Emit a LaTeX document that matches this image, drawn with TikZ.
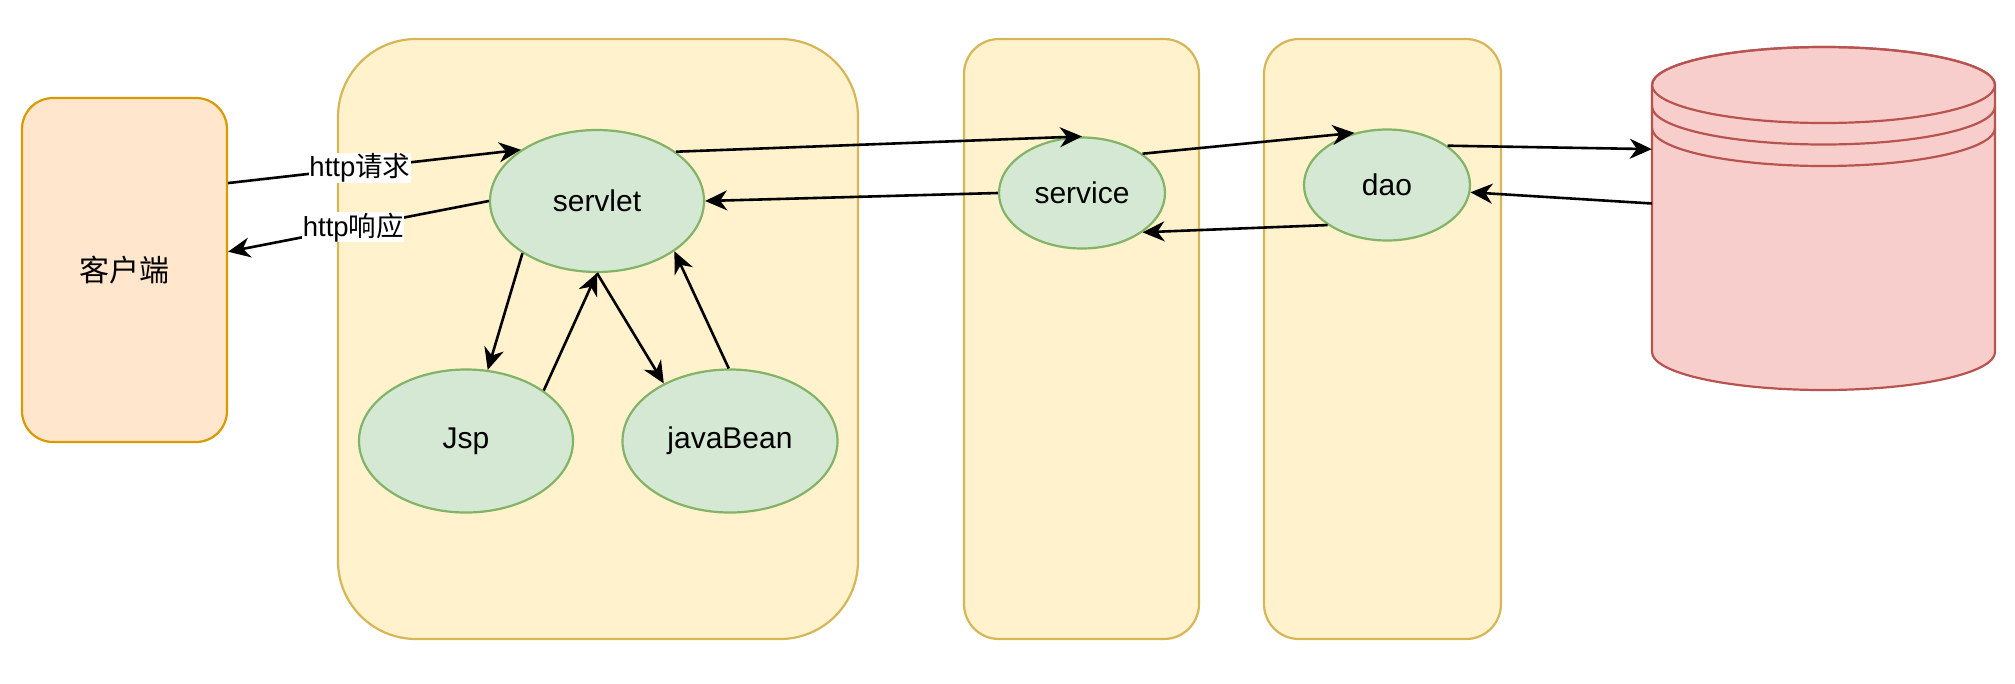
\documentclass[tikz,border=0pt]{standalone}
\usepackage{fontspec}
\setmainfont{Liberation Sans}
\newfontfamily\cjk{Noto Sans CJK SC}
\usetikzlibrary{shapes.geometric,arrows.meta}
\definecolor{orfill}{HTML}{FFE6CC}\definecolor{ordraw}{HTML}{D79B00}
\definecolor{yefill}{HTML}{FFF2CC}\definecolor{yedraw}{HTML}{D6B656}
\definecolor{grfill}{HTML}{D5E8D4}\definecolor{grdraw}{HTML}{82B366}
\definecolor{rdfill}{HTML}{F8CECC}\definecolor{rddraw}{HTML}{B85450}
\tikzset{
  lane/.style={draw=yedraw,fill=yefill,line width=2.2pt,inner sep=0pt},
  comp/.style={ellipse,draw=grdraw,fill=grfill,line width=2.2pt,inner sep=0pt,
    font=\fontsize{30}{36}\selectfont},
  conn/.style={line width=2.6pt,-{Stealth[length=22pt,width=20pt,inset=7pt]}},
  elabel/.style={fill=white,inner sep=0.5pt,font=\fontsize{27.5}{33}\selectfont}
}
\begin{document}
\begin{tikzpicture}[x=1pt,y=-1pt]
\useasboundingbox (0,0) rectangle (2015,683);
% lanes
\node[lane,rounded corners=78pt,minimum width=520pt,minimum height=600pt] (lane1) at (598,339) {};
\node[lane,rounded corners=35pt,minimum width=235pt,minimum height=600pt] (lane2) at (1081.5,339) {};
\node[lane,rounded corners=35pt,minimum width=237pt,minimum height=600pt] (lane3) at (1382.5,339) {};
% client
\node[draw=ordraw,fill=orfill,line width=2.2pt,rounded corners=31pt,minimum width=205pt,minimum height=344pt,inner sep=0pt,
  font=\fontsize{30}{36}\selectfont] (client) at (124.5,270) {\cjk 客户端};
% components
\node[comp,minimum width=214pt,minimum height=142pt] (servlet) at (597,201) {servlet};
\node[comp,minimum width=214pt,minimum height=143pt] (jsp) at (466,441) {Jsp};
\node[comp,minimum width=215pt,minimum height=143pt] (bean) at (730,441) {javaBean};
\node[comp,minimum width=166pt,minimum height=111pt] (service) at (1082,193) {service};
\node[comp,minimum width=166pt,minimum height=111pt] (dao) at (1387,185) {dao};
% database
\node[minimum width=343pt,minimum height=343pt,inner sep=0pt] (db) at (1823.5,218.5) {};
\begin{scope}[draw=rddraw,line width=2.2pt]
\filldraw[fill=rdfill] (1652,85) -- (1652,352) arc[start angle=180,end angle=360,x radius=171.5,y radius=-38]
  -- (1995,85) arc[start angle=0,end angle=180,x radius=171.5,y radius=-38] -- cycle;
\draw (1823.5,85) ellipse[x radius=171.5,y radius=38];
\draw (1652,106.5) arc[start angle=180,end angle=360,x radius=171.5,y radius=-38];
\draw (1652,128) arc[start angle=180,end angle=360,x radius=171.5,y radius=-38];
\draw (1652,85) -- (1652,128) (1995,85) -- (1995,128);
\end{scope}
% connectors
\draw[conn] (client.40) -- node[elabel,pos=0.45]{http{\cjk 请求}} (servlet.146.7);
\draw[conn] (servlet.180) -- node[elabel,pos=0.52]{http{\cjk 响应}} (client.10.5);
\draw[conn] (servlet.32.8) -- (service.90);
\draw[conn] (service.180) -- (servlet.0);
\draw[conn] (service.33.9) -- (dao.122);
\draw[conn] (dao.-146.5) -- (service.-33.9);
\draw[conn] (dao.33) -- (db.158.2);
\draw[conn] (db.175.5) -- (dao.-5);
\draw[conn] (servlet.-145) -- (jsp.73);
\draw[conn] (jsp.33.5) -- (servlet.-90);
\draw[conn] (servlet.-90) -- (bean.139);
\draw[conn] (bean.91) -- (servlet.-33.7);
\end{tikzpicture}
\end{document}
